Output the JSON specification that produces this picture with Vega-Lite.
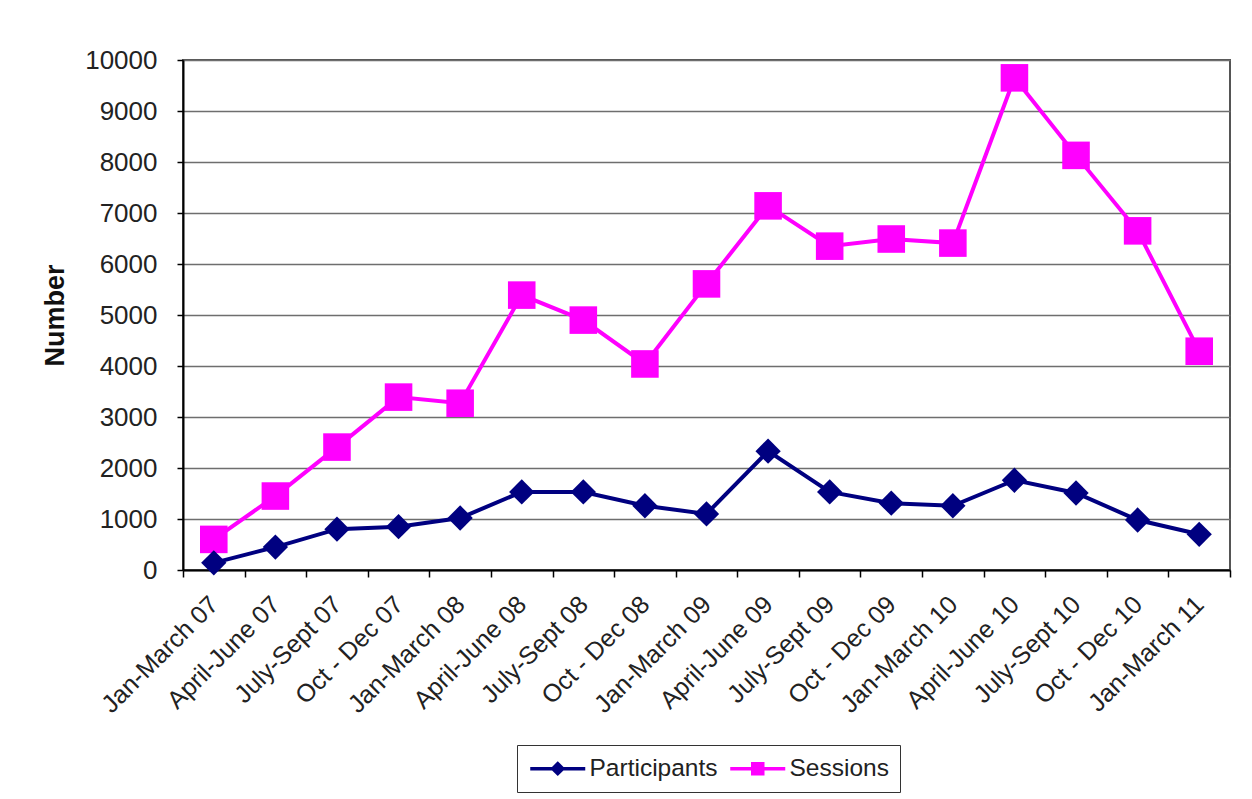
{
  "$schema": "https://vega.github.io/schema/vega-lite/v6.json",
  "width": 1047,
  "height": 510,
  "autosize": {"type": "none"},
  "padding": {"left": 183, "top": 60, "right": 22, "bottom": 229},
  "background": "white",
  "config": {
    "font": "Liberation Sans",
    "view": {"stroke": "#555555", "strokeWidth": 2}
  },
  "data": {
    "values": [
      {"period": "Jan-March 07", "series": "Participants", "value": 140},
      {"period": "April-June 07", "series": "Participants", "value": 450},
      {"period": "July-Sept 07", "series": "Participants", "value": 800},
      {"period": "Oct - Dec 07", "series": "Participants", "value": 850},
      {"period": "Jan-March 08", "series": "Participants", "value": 1020},
      {"period": "April-June 08", "series": "Participants", "value": 1530},
      {"period": "July-Sept 08", "series": "Participants", "value": 1530},
      {"period": "Oct - Dec 08", "series": "Participants", "value": 1260},
      {"period": "Jan-March 09", "series": "Participants", "value": 1100},
      {"period": "April-June 09", "series": "Participants", "value": 2330},
      {"period": "July-Sept 09", "series": "Participants", "value": 1530},
      {"period": "Oct - Dec 09", "series": "Participants", "value": 1310},
      {"period": "Jan-March 10", "series": "Participants", "value": 1260},
      {"period": "April-June 10", "series": "Participants", "value": 1760},
      {"period": "July-Sept 10", "series": "Participants", "value": 1510},
      {"period": "Oct - Dec 10", "series": "Participants", "value": 980},
      {"period": "Jan-March 11", "series": "Participants", "value": 700},
      {"period": "Jan-March 07", "series": "Sessions", "value": 600},
      {"period": "April-June 07", "series": "Sessions", "value": 1450},
      {"period": "July-Sept 07", "series": "Sessions", "value": 2410},
      {"period": "Oct - Dec 07", "series": "Sessions", "value": 3390},
      {"period": "Jan-March 08", "series": "Sessions", "value": 3270},
      {"period": "April-June 08", "series": "Sessions", "value": 5390},
      {"period": "July-Sept 08", "series": "Sessions", "value": 4900},
      {"period": "Oct - Dec 08", "series": "Sessions", "value": 4040},
      {"period": "Jan-March 09", "series": "Sessions", "value": 5610},
      {"period": "April-June 09", "series": "Sessions", "value": 7140},
      {"period": "July-Sept 09", "series": "Sessions", "value": 6350},
      {"period": "Oct - Dec 09", "series": "Sessions", "value": 6490},
      {"period": "Jan-March 10", "series": "Sessions", "value": 6410},
      {"period": "April-June 10", "series": "Sessions", "value": 9650},
      {"period": "July-Sept 10", "series": "Sessions", "value": 8130},
      {"period": "Oct - Dec 10", "series": "Sessions", "value": 6650},
      {"period": "Jan-March 11", "series": "Sessions", "value": 4290}
    ]
  },
  "encoding": {
    "x": {
      "field": "period",
      "type": "nominal",
      "sort": null,
      "bandPosition": 0.5,
      "scale": {"type": "band", "paddingInner": 0, "paddingOuter": 0},
      "axis": {
        "title": null,
        "tickBand": "extent",
        "grid": false,
        "domainColor": "#000000",
        "domainWidth": 2,
        "tickColor": "#000000",
        "tickWidth": 1.5,
        "tickSize": 7,
        "labelAngle": -45,
        "labelAlign": "right",
        "labelBaseline": "middle",
        "labelFontSize": 25,
        "labelColor": "#222222",
        "labelPadding": 23,
        "labelOverlap": false
      }
    },
    "y": {
      "field": "value",
      "type": "quantitative",
      "scale": {"domain": [0, 10000], "nice": false},
      "axis": {
        "title": "Number",
        "titleFontSize": 27,
        "titleFontWeight": "bold",
        "titleColor": "#111111",
        "titlePadding": 15,
        "values": [0, 1000, 2000, 3000, 4000, 5000, 6000, 7000, 8000, 9000, 10000],
        "format": "d",
        "grid": true,
        "gridColor": "#6e6e6e",
        "gridWidth": 1.5,
        "domainColor": "#000000",
        "domainWidth": 2,
        "tickColor": "#000000",
        "tickWidth": 1.5,
        "tickSize": 6,
        "labelFontSize": 26,
        "labelColor": "#222222",
        "labelPadding": 20
      }
    },
    "color": {
      "field": "series",
      "type": "nominal",
      "scale": {"domain": ["Participants", "Sessions"], "range": ["#000080", "#FF00FF"]},
      "legend": {
        "title": null,
        "orient": "none",
        "legendX": 334,
        "legendY": 685,
        "direction": "horizontal",
        "strokeColor": "#333333",
        "fillColor": "white",
        "padding": 11,
        "labelFontSize": 24.5,
        "labelColor": "#222222",
        "labelOffset": 37,
        "symbolSize": 400,
        "symbolStrokeWidth": 3.5,
        "columnPadding": 5,
        "encode": {
          "symbols": {
            "update": {
              "shape": {"signal": "datum.value === 'Participants' ? 'M-1,0H4.5M1.25,0L1.75,-0.5L2.25,0L1.75,0.5Z' : 'M-1,0H4.5M1.25,-0.5H2.25V0.5H1.25Z'"},
              "fill": {"signal": "datum.value === 'Participants' ? '#000080' : '#FF00FF'"},
              "stroke": {"signal": "datum.value === 'Participants' ? '#000080' : '#FF00FF'"},
              "strokeWidth": {"value": 3.5},
              "opacity": {"value": 1},
              "fillOpacity": {"value": 1}
            }
          }
        }
      }
    }
  },
  "layer": [
    {
      "mark": {"type": "line", "strokeWidth": 4}
    },
    {
      "transform": [{"filter": "datum.series === 'Sessions'"}],
      "mark": {"type": "point", "shape": "square", "size": 760, "filled": true, "opacity": 1}
    },
    {
      "transform": [{"filter": "datum.series === 'Participants'"}],
      "mark": {"type": "point", "shape": "diamond", "size": 640, "filled": true, "opacity": 1}
    }
  ]
}
